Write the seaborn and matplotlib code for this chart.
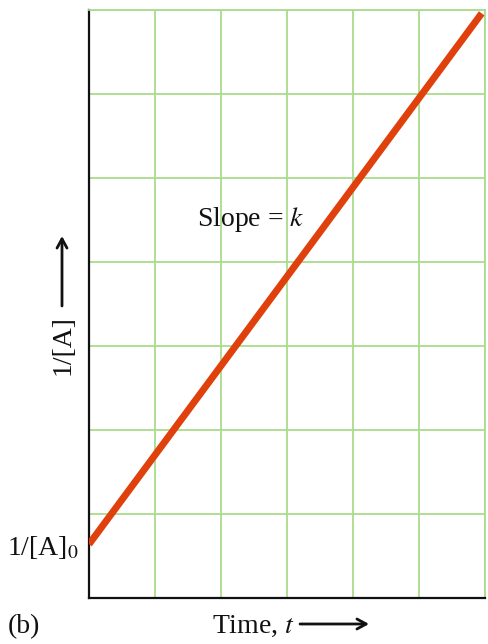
import matplotlib
matplotlib.use("Agg")
import matplotlib.pyplot as plt
from matplotlib.ticker import MultipleLocator, FixedLocator
import seaborn as sns
import pandas as pd

# Second-order kinetics: 1/[A] grows linearly with time
time = [0.0, 5.95]
inv_conc = [0.64, 6.96]
intercept_label = "1/[A]$_0$"

sns.set_theme(style="white")
plt.rcParams["font.family"] = ["Liberation Serif", "DejaVu Serif"]
plt.rcParams["mathtext.fontset"] = "stix"

W, H = 488, 644
FS = 20
fig = plt.figure(figsize=(W / 100, H / 100), dpi=100)
ax = fig.add_axes([89 / W, (H - 598) / H, 396 / W, 588 / H])

grid_green = "#a9dc8c"
line_red = "#e0400c"
ink = "#111111"

df = pd.DataFrame({"t": time, "inv": inv_conc})
sns.lineplot(data=df, x="t", y="inv", ax=ax, color=line_red, linewidth=5,
             solid_capstyle="butt", zorder=3)

ax.set_xlim(0, 6)
ax.set_ylim(0, 7)

# grid on integer positions, drawn via minor ticks
ax.xaxis.set_minor_locator(MultipleLocator(1))
ax.yaxis.set_minor_locator(MultipleLocator(1))
ax.grid(which="minor", color=grid_green, linewidth=1.3)
ax.grid(which="major", visible=False)
ax.set_xticks([])
ax.yaxis.set_major_locator(FixedLocator([inv_conc[0]]))
ax.set_yticklabels([intercept_label], fontsize=FS)
ax.tick_params(which="both", length=0, pad=7)
ax.tick_params(axis="y", colors=ink)

for side in ("left", "bottom"):
    ax.spines[side].set_color(ink)
    ax.spines[side].set_linewidth(1.6)
for side in ("top", "right"):
    ax.spines[side].set_color(grid_green)
    ax.spines[side].set_linewidth(1.3)

ax.set_xlabel("")
ax.set_ylabel("")

ax.text(2.45, 4.5, "Slope = $k$", fontsize=FS, ha="center", va="center",
        color=ink, zorder=4)


def fx(px):
    return px / W


def fy(py):
    return 1 - py / H


arrow_style = dict(arrowstyle="->,head_length=0.55,head_width=0.3",
                   lw=2.0, color=ink, shrinkA=0, shrinkB=0)

# axis labels with long arrows
fig.text(fx(253), fy(626), "Time, $t$", fontsize=FS, ha="center", va="center",
         color=ink)
ax.annotate("", xy=(fx(369), fy(624)), xytext=(fx(300), fy(624)),
            xycoords="figure fraction", textcoords="figure fraction",
            arrowprops=arrow_style, annotation_clip=False)

fig.text(fx(63), fy(345), "1/[A]", fontsize=FS, ha="center", va="center",
         rotation=90, color=ink)
ax.annotate("", xy=(fx(62), fy(236)), xytext=(fx(62), fy(306)),
            xycoords="figure fraction", textcoords="figure fraction",
            arrowprops=arrow_style, annotation_clip=False)

fig.text(fx(24), fy(627), "(b)", fontsize=FS, ha="center", va="center",
         color=ink)

fig.savefig("out.png", dpi=100)
